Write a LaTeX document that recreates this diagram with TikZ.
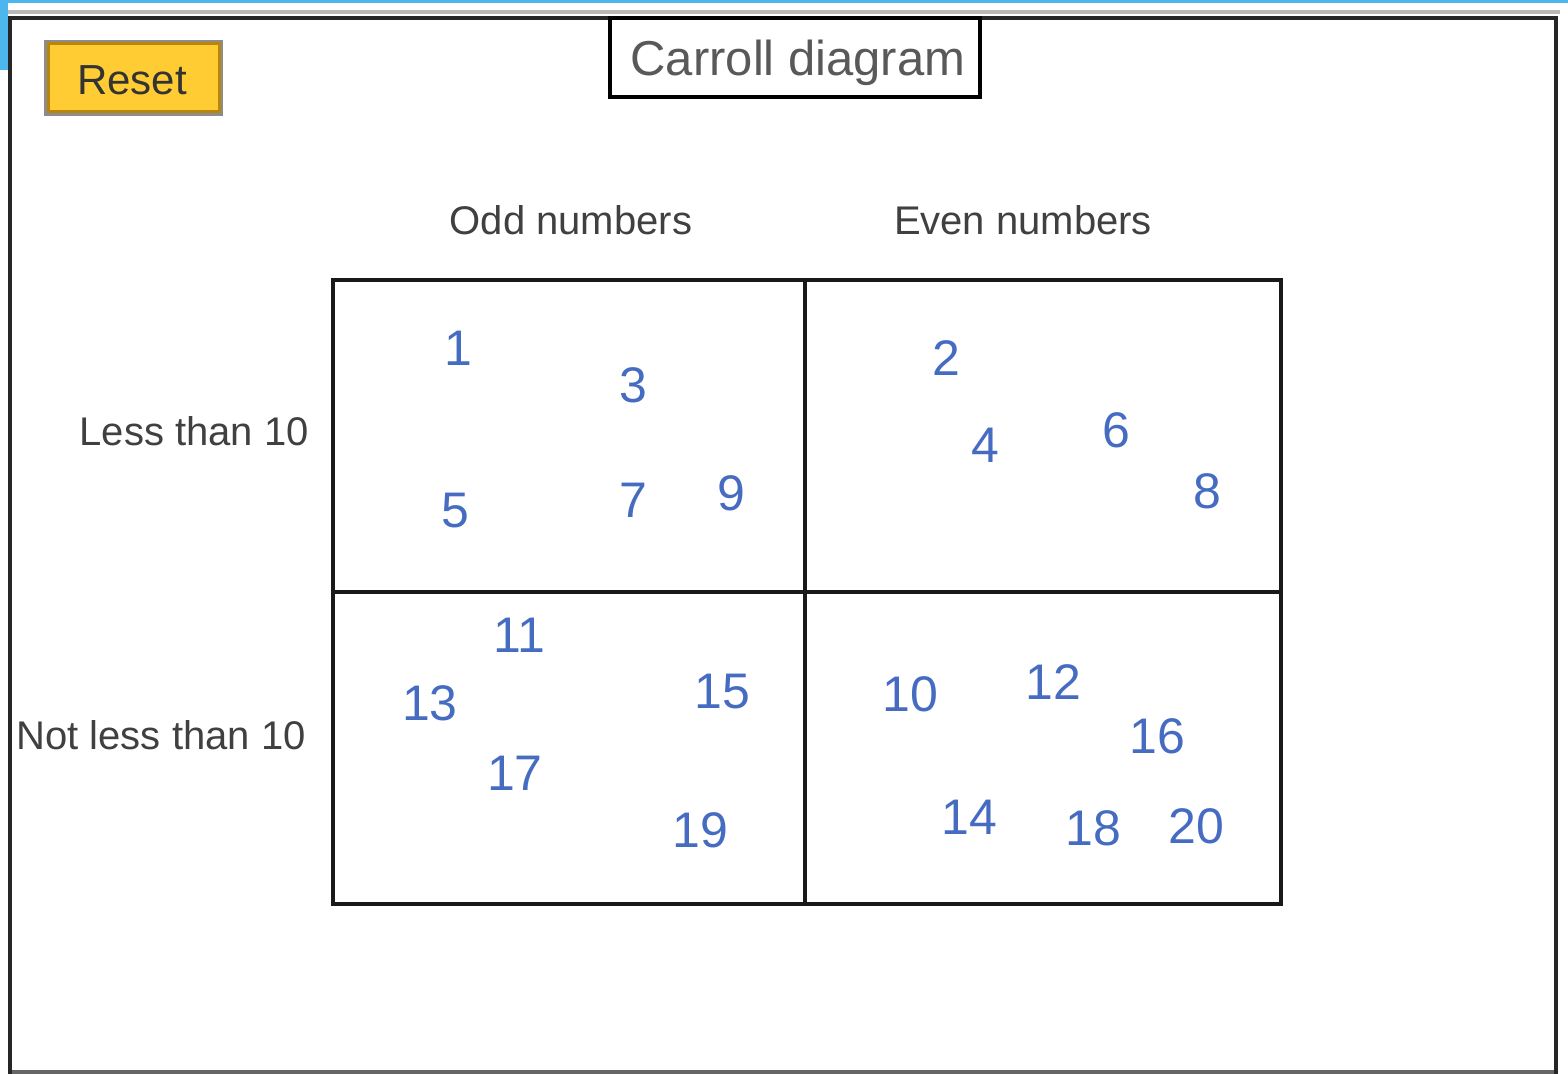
\documentclass[tikz,border=0pt]{standalone}
\usepackage{fontspec}
\setmainfont{Liberation Sans}
\usetikzlibrary{positioning}

\definecolor{numblue}{RGB}{70,108,194}
\definecolor{btnyellow}{RGB}{255,204,51}
\definecolor{btnedge}{RGB}{184,134,11}
\definecolor{topblue}{RGB}{77,182,236}

\tikzset{
  numtxt/.style={text=numblue, font=\fontsize{25}{28}\selectfont, inner sep=0pt},
  headtxt/.style={text=black!75, font=\fontsize{20}{24}\selectfont, inner sep=0pt},
  gridline/.style={line width=2pt, black!90}
}

\begin{document}
\begin{tikzpicture}[x=0.5pt, y=-0.5pt]
    \useasboundingbox (0,0) rectangle (1568,1074);
    % window edge
    \fill[topblue] (0,0) rectangle (1568,3);
    \fill[topblue] (0,0) rectangle (8,70);
    \fill[black!28] (8,10) rectangle (1560,14);
    \draw[line width=2pt, black!85] (10,18) rectangle (1556,1072);
    \draw[line width=2pt, black!60] (12,1072) -- (1554,1072);
    % reset button
    \fill[black!45] (44,40) rectangle (223,116);
    \draw[line width=1.5pt, btnedge, fill=btnyellow] (48,44) rectangle (219,112);
    \node[text=black!80, font=\fontsize{21}{24}\selectfont, inner sep=0pt] (reset) at (132,80) {Reset};
    % title
    \draw[line width=2pt, fill=white] (610,18) rectangle (980,97);
    \node[text=black!65, font=\fontsize{24.5}{28}\selectfont, inner sep=0pt, anchor=base] (title) at (798,76) {Carroll diagram};
    % grid
    \draw[gridline] (333,280) rectangle (1281,904);
    \draw[gridline] (805,280) -- (805,904);
    \draw[gridline] (333,592) -- (1281,592);
    % headers
    \node[headtxt] (odd) at (571,220) {Odd numbers};
    \node[headtxt] (even) at (1023,220) {Even numbers};
    \node[headtxt, anchor=east] (less) at (309,431) {Less than 10};
    \node[headtxt, anchor=east] (notless) at (306,735) {Not less than 10};
    % numbers
    \foreach \n/\px/\py in {1/458/348, 3/633/385, 5/455/511, 7/633/500, 9/731/493,
      2/946/358, 4/985/445, 6/1116/430, 8/1207/491,
      11/519/635, 13/430/703, 15/722/692, 17/515/773, 19/700/830,
      10/910/694, 12/1053/682, 16/1157/736, 14/969/817, 18/1093/828, 20/1196/826}
      \node[numtxt] (n\n) at (\px,\py) {\n};
\end{tikzpicture}
\end{document}
